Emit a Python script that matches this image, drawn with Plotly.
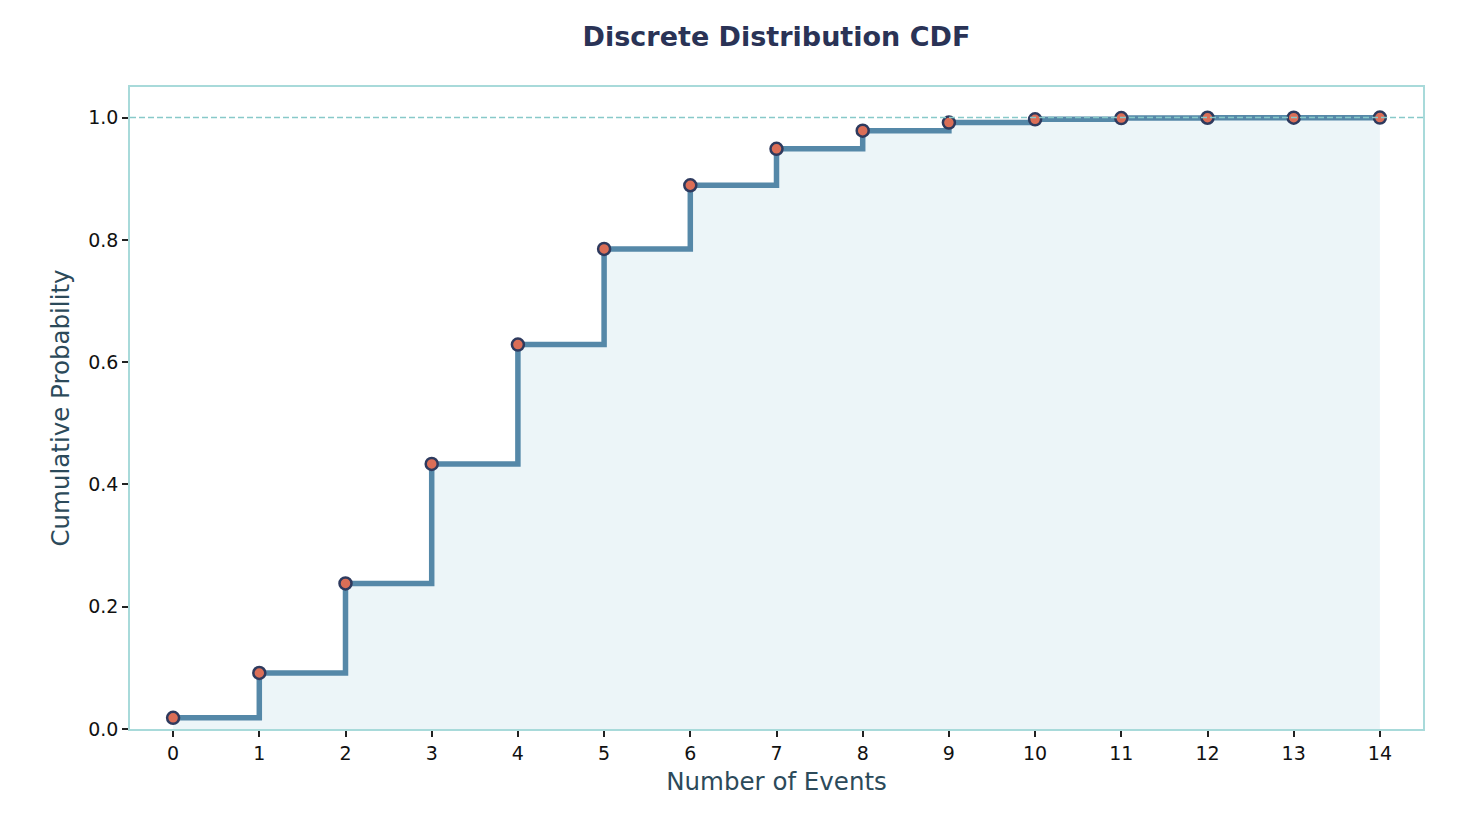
import plotly.graph_objects as go

events = [0, 1, 2, 3, 4, 5, 6, 7, 8, 9, 10, 11, 12, 13, 14]
cdf = [0.0183, 0.0916, 0.2381, 0.4335, 0.6288, 0.7851, 0.8893, 0.9489,
       0.9786, 0.9919, 0.9972, 0.9991, 0.9997, 0.9999, 1.0000]
x_ticks = events
y_ticks = [0.0, 0.2, 0.4, 0.6, 0.8, 1.0]

font = "DejaVu Sans"
fig = go.Figure()

fig.add_trace(go.Scatter(
    x=events, y=cdf, mode="lines", line_shape="hv",
    line=dict(width=0, color="rgba(0,0,0,0)"),
    fill="tozeroy", fillcolor="rgba(168,210,222,0.22)",
    hoverinfo="skip", showlegend=False))

fig.add_trace(go.Scatter(
    x=events, y=cdf, mode="lines+markers", line_shape="hv",
    line=dict(width=5.5, color="#5588a8"),
    marker=dict(size=12, color="#db6e57", line=dict(width=2.5, color="#2e3a5e")),
    showlegend=False))

fig.add_hline(y=1.0, line=dict(color="#88c9c9", width=1.5, dash="6px,3px"), layer="above")

fig.update_layout(
    width=1450, height=829,
    paper_bgcolor="white", plot_bgcolor="white",
    margin=dict(l=122, r=35, t=79, b=108),
    title=dict(text="<b>Discrete Distribution CDF</b>", x=0.5, xref="paper", xanchor="center",
               y=0.965, yanchor="middle",
               font=dict(family=font, size=27, color="#2a3356")),
    font=dict(family=font, size=18, color="#111111"),
    xaxis=dict(range=[-0.5, 14.5], tickvals=x_ticks, ticks="outside", ticklen=6,
               tickwidth=1.5, tickcolor="#222", showgrid=False, zeroline=False,
               showline=True, mirror=True, linecolor="#a8dada", linewidth=1.5,
               title=dict(text="Number of Events", font=dict(size=24.5, color="#2c4a5a"), standoff=10),
               tickfont=dict(size=19)),
    yaxis=dict(range=[0, 1.05], tickvals=y_ticks, tickformat=".1f", ticks="outside",
               ticklen=6, tickwidth=1.5, tickcolor="#222", showgrid=False, zeroline=False,
               showline=True, mirror=True, linecolor="#a8dada", linewidth=1.5,
               title=dict(text="Cumulative Probability", font=dict(size=24.5, color="#2c4a5a"), standoff=12),
               tickfont=dict(size=19)),
)

fig.write_html("out.html")
